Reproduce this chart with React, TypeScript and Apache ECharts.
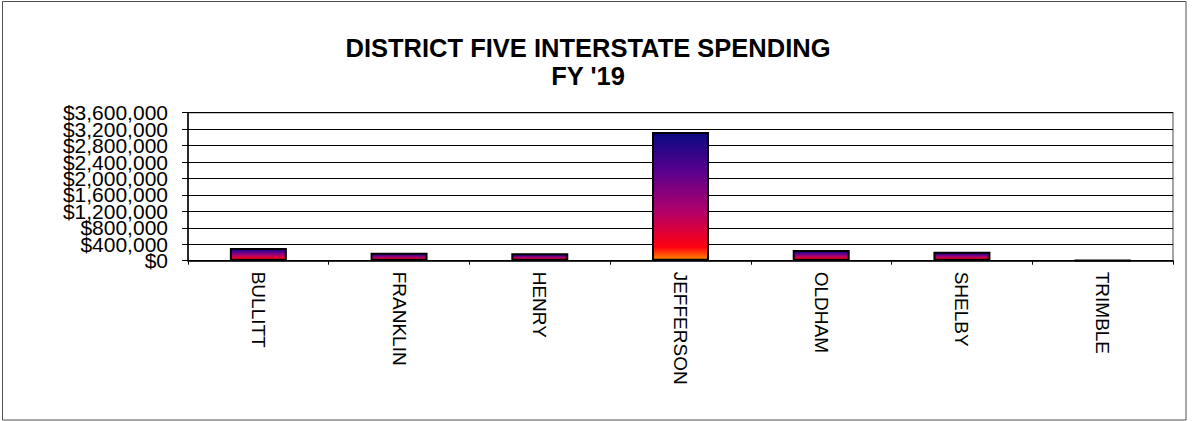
import React, { useEffect, useRef } from "react";
import * as echarts from "echarts";

const categories = ["BULLITT", "FRANKLIN", "HENRY", "JEFFERSON", "OLDHAM", "SHELBY", "TRIMBLE"];
const spending = [310000, 195000, 180000, 3130000, 260000, 220000, 15000];
const titleLines = ["DISTRICT FIVE INTERSTATE SPENDING", "FY '19"];
const yTicks = [0, 400000, 800000, 1200000, 1600000, 2000000, 2400000, 2800000, 3200000, 3600000];
const yMax = 3600000;
const yStep = 400000;

const FONT = "'Liberation Sans', Arial, sans-serif";

function money(v: number): string {
  return "$" + String(v).replace(/\B(?=(\d{3})+(?!\d))/g, ",");
}

export default function App() {
  const ref = useRef<HTMLDivElement>(null);
  useEffect(() => {
    document.body.style.margin = "0";
    const chart = echarts.init(ref.current!, null, { renderer: "svg" });
    const barColor = new echarts.graphic.LinearGradient(0, 0, 0, 1, [
      { offset: 0, color: "#0a0a80" },
      { offset: 0.3, color: "#58008e" },
      { offset: 0.62, color: "#b2006a" },
      { offset: 0.9, color: "#ff0010" },
      { offset: 1, color: "#ff8a00" },
    ]);
    const gridLeft = 188;
    const labelGap = 20;
    chart.setOption({
      animation: false,
      backgroundColor: "#ffffff",
      title: {
        text: titleLines.join("\n"),
        left: 583,
        textAlign: "center",
        top: 29,
        textStyle: {
          fontFamily: FONT,
          fontWeight: "bold",
          fontSize: 25.5,
          lineHeight: 28,
          color: "#000",
        },
      },
      grid: {
        left: gridLeft,
        right: 19,
        top: 112.7,
        bottom: 160.3,
        show: true,
        borderColor: "#888",
        borderWidth: 1.5,
        backgroundColor: "transparent",
      },
      xAxis: {
        type: "category",
        data: categories,
        axisLine: { lineStyle: { color: "#000", width: 1.5 } },
        axisTick: { show: true, length: 4, lineStyle: { color: "#000" } },
        axisLabel: {
          rotate: -90,
          margin: 11,
          interval: 0,
          fontFamily: FONT,
          fontSize: 19,
          color: "#000",
        },
      },
      yAxis: {
        type: "value",
        min: 0,
        max: yMax,
        interval: yStep,
        axisLine: { show: true, lineStyle: { color: "#000", width: 1.5 } },
        axisTick: { show: true, length: 6, lineStyle: { color: "#000" } },
        splitLine: { show: true, lineStyle: { color: "#000", width: 1 } },
        axisLabel: { show: false },
      },
      series: [
        {
          type: "bar",
          data: spending,
          barWidth: "40.5%",
          itemStyle: {
            color: barColor,
            borderColor: "#000",
            borderWidth: 2,
          },
        },
      ],
    });
    const labels = yTicks.map((v) => {
      const y = chart.convertToPixel({ yAxisIndex: 0 }, v) as number;
      return {
        type: "text",
        x: gridLeft - labelGap,
        y,
        silent: true,
        style: {
          text: money(v),
          fontFamily: FONT,
          fontSize: 21,
          fill: "#000",
          align: "right",
          verticalAlign: "middle",
        },
      };
    });
    chart.setOption({
      graphic: [
        {
          type: "rect",
          shape: { x: 2.5, y: 1.5, width: 1183.5, height: 418.5 },
          style: { fill: "none", stroke: "#505050", lineWidth: 1 },
          silent: true,
        },
        ...labels,
      ],
    });
    return () => chart.dispose();
  }, []);
  return <div ref={ref} style={{ width: 1192, height: 421 }} />;
}
